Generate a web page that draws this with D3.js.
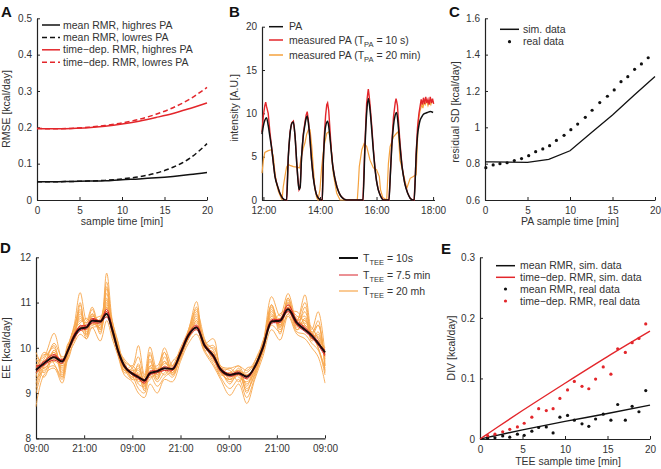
<!DOCTYPE html>
<html><head><meta charset="utf-8">
<script src="https://cdn.jsdelivr.net/npm/d3@7"></script>
<style>body{margin:0;background:#fff} text{font-family:"Liberation Sans",Arial,sans-serif}</style>
</head><body><svg id="c" width="661" height="469"></svg>
<script>
// ---------- Panel A ----------
const aTime = [0,2,4,6,8,10,12,14,16,18,20];
const aMeanHigh = [0.050,0.050,0.051,0.052,0.053,0.056,0.058,0.061,0.065,0.070,0.076];
const aMeanLow  = [0.050,0.050,0.051,0.052,0.054,0.058,0.064,0.074,0.090,0.115,0.155];
const aTimeHigh = [0.197,0.196,0.197,0.199,0.203,0.209,0.217,0.227,0.238,0.252,0.267];
const aTimeLow  = [0.197,0.196,0.197,0.200,0.205,0.212,0.222,0.236,0.254,0.278,0.310];
const aXTicks = [0,5,10,15,20];
const aYTicks = [0,0.1,0.2,0.3,0.4,0.5];
const aYLabels = ["0","0.1","0.2","0.3","0.4","0.5"];
const aLegend = ["mean RMR, highres PA","mean RMR, lowres PA","time\u2212dep. RMR, highres PA","time\u2212dep. RMR, lowres PA"];

// ---------- Panel B ----------
const paTime = [11.95,12.0,12.05,12.11,12.17,12.23,12.29,12.35,12.41,12.5,12.58,12.68,12.76,12.82,12.88,12.94,13.0,13.06,13.12,13.18,13.22,13.26,13.3,13.35,13.41,13.47,13.51,13.55,13.6,13.65,13.7,13.76,13.82,13.88,13.95,14.03,14.08,14.12,14.16,14.2,14.27,14.31,14.35,14.4,14.45,14.52,14.6,14.68,14.75,14.85,14.95,15.2,15.45,15.52,15.59,15.65,15.71,15.77,15.83,15.89,15.95,16.0,16.06,16.15,16.24,16.35,16.44,16.49,16.54,16.6,16.66,16.71,16.77,16.83,16.9,16.95,17.0,17.1,17.19,17.28,17.33,17.37,17.4,17.45,17.5,17.54,17.6,17.66,17.72,17.8,17.9,18.0];
const paTrue = [7.6,8.6,9.2,9.5,8.6,7.3,6.0,4.3,2.7,1.6,0.8,0.2,0,0,5.0,7.6,8.8,9.0,7.3,4.2,2.4,1.2,1.5,5.0,7.4,8.7,9.4,9.7,8.6,6.9,4.7,2.7,1.4,0.6,0.2,0,0,4.5,7.2,8.5,9.1,8.5,7.3,5.6,4.0,2.6,1.5,0.8,0.4,0.1,0,0,0,0,6.0,10.0,11.7,10.4,8.1,5.6,3.5,2.2,1.2,0.4,0,0,0,3.0,6.2,8.6,9.8,10.1,8.5,6.2,3.9,2.8,1.9,0.8,0.2,0,0,2.5,5.0,7.5,8.6,9.2,9.6,9.9,10.0,10.1,10.2,10.1];
const paTime10s = [11.95,12.0,12.05,12.08,12.11,12.17,12.23,12.29,12.35,12.41,12.5,12.58,12.68,12.76,12.82,12.88,12.94,13.0,13.06,13.12,13.18,13.22,13.26,13.3,13.35,13.41,13.47,13.51,13.55,13.6,13.65,13.7,13.76,13.82,13.88,13.95,14.03,14.08,14.12,14.16,14.2,14.24,14.27,14.31,14.35,14.4,14.45,14.52,14.6,14.68,14.75,14.85,14.95,15.2,15.45,15.52,15.59,15.65,15.69,15.71,15.74,15.77,15.83,15.89,15.95,16.0,16.06,16.15,16.24,16.35,16.44,16.49,16.54,16.6,16.66,16.69,16.71,16.74,16.77,16.83,16.9,16.95,17.0,17.1,17.19,17.28,17.33,17.37,17.4,17.45,17.5,17.54,17.58,17.62,17.66,17.7,17.74,17.78,17.82,17.86,17.9,17.94,17.98,18.02];
const pa10s = [7.8,9.8,10.9,11.3,10.8,10.0,7.8,6.1,4.3,2.7,1.6,0.8,0.2,0,0,5.0,7.8,8.9,9.1,7.4,4.2,2.4,1.2,1.5,5.1,7.6,9.0,9.8,10.2,8.9,6.9,4.7,2.7,1.4,0.6,0.2,0,0,4.8,7.8,9.8,11.0,11.2,10.3,8.3,5.8,4.0,2.6,1.5,0.8,0.4,0.1,0,0,0,0,6.4,11.2,12.3,12.8,12.0,11.0,8.6,5.8,3.5,2.2,1.2,0.4,0,0,0,3.1,6.5,9.6,11.2,11.7,11.4,10.9,9.4,6.6,4.0,2.8,1.9,0.8,0.2,0,0,2.6,5.3,8.4,10.0,10.8,11.6,11.0,11.8,11.1,11.9,11.2,11.6,11.0,11.9,11.2,11.7,11.1];
const paTime20m = [11.95,12.0,12.05,12.17,12.29,12.35,12.41,12.47,12.53,12.62,12.66,12.7,12.76,12.82,12.88,12.94,13.06,13.2,13.28,13.33,13.41,13.47,13.53,13.59,13.65,13.71,13.77,13.82,13.88,13.93,14.0,14.06,14.14,14.24,14.32,14.39,14.47,14.59,14.71,15.32,15.36,15.39,15.48,15.56,15.65,15.77,15.89,16.0,16.1,16.14,16.22,16.36,16.42,16.48,16.6,16.71,16.77,16.83,16.89,17.0,17.07,17.19,17.3,17.4,17.44,17.48,17.54,17.6,17.64,17.68,17.72,17.77,17.82,17.87,17.92,17.96,18.02];
const pa20m = [3.1,4.6,5.5,5.7,5.8,5.0,3.1,1.8,1.0,0.3,0,1.5,2.7,3.8,4.1,4.0,3.85,3.8,3.7,4.8,6.0,6.6,7.6,8.1,8.1,6.2,3.5,1.3,0.3,0,1.2,3.8,6.2,7.7,7.9,6.2,3.1,0.8,0,0,2.0,3.85,5.8,6.5,6.2,4.6,3.7,3.5,2.7,1.2,0.3,0,4.2,6.15,7.3,7.7,7.9,4.6,3.85,2.3,1.35,2.5,2.7,2.9,6.15,9.2,10.3,11.0,10.6,11.3,11.0,11.5,10.9,11.4,11.0,11.5,11.2];
const bXTicks = [12,14,16,18];
const bXLabels = ["12:00","14:00","16:00","18:00"];
const bYTicks = [0,5,10,15,20];

// ---------- Panel C ----------
const cSimTime = [0,0.83,5,7.5,10,12.5,15,17.5,20];
const cSim = [0.81,0.81,0.807,0.824,0.871,0.97,1.068,1.175,1.28];
const cRealTime = [0.1,0.96,1.76,2.6,3.45,4.3,5.14,5.96,6.8,7.6,8.4,9.3,10.1,10.9,11.8,12.6,13.5,14.4,15.2,16.0,16.8,17.6,18.4,19.2];
const cReal = [0.778,0.793,0.80,0.805,0.817,0.828,0.844,0.866,0.881,0.899,0.928,0.956,0.987,1.018,1.055,1.094,1.136,1.171,1.206,1.251,1.279,1.319,1.349,1.383];
const cYTicks = [0.6,0.8,1,1.2,1.4,1.6];
const cYLabels = ["0.6","0.8","1","1.2","1.4","1.6"];

// ---------- Panel D ----------
const eeTime = [0,2,4.5,6.5,8,9.5,11,12.6,14,16,17.6,19,20.5,22,24,25.5,27,28.4,30.2,32,34,36,38,40,42,44.2,46,48.3,50.5,52.5,54.5,56.5,58.7,60.8,62.8,65,67,68.7,70.3,72];
const ee10s = [9.51,9.66,9.79,9.70,9.95,10.25,10.42,10.45,10.6,10.58,10.75,10.4,9.92,9.6,9.43,9.35,9.28,9.44,9.48,9.55,9.53,9.88,10.28,10.45,10.05,9.82,9.52,9.40,9.44,9.36,9.58,10.0,10.58,10.6,10.85,10.55,10.4,10.27,10.1,9.9];
const ee7_5a = [9.56,9.7,9.85,9.72,9.98,10.3,10.48,10.5,10.65,10.6,10.85,10.42,9.95,9.62,9.45,9.38,9.25,9.48,9.5,9.58,9.55,9.92,10.32,10.5,10.08,9.85,9.55,9.42,9.47,9.35,9.6,10.04,10.62,10.63,10.95,10.6,10.45,10.3,10.14,9.85];
const ee7_5b = [9.45,9.62,9.73,9.66,9.92,10.2,10.38,10.42,10.55,10.55,10.68,10.36,9.88,9.57,9.4,9.32,9.22,9.4,9.45,9.5,9.5,9.84,10.24,10.4,10.02,9.78,9.48,9.37,9.41,9.32,9.55,9.96,10.54,10.56,10.8,10.5,10.36,10.22,10.06,9.82];
const ee7_5c = [9.6,9.64,9.82,9.74,9.93,10.28,10.45,10.47,10.62,10.6,10.8,10.44,9.9,9.63,9.42,9.36,9.3,9.42,9.5,9.54,9.55,9.9,10.27,10.47,10.06,9.84,9.53,9.41,9.44,9.38,9.57,10.0,10.6,10.62,10.88,10.56,10.42,10.28,10.1,9.95];
const ee20a = [9.7,9.8,10.32,9.75,10.05,10.5,11.22,10.6,10.9,10.4,11.65,10.6,10.0,9.75,9.6,10.05,9.4,10.02,9.5,10.0,9.6,10.0,10.4,11.02,10.1,10.2,9.6,9.55,9.6,9.5,9.7,10.1,11.13,10.7,11.2,10.6,11.17,10.4,10.8,9.85];
const ee20b = [8.7,9.4,9.55,9.22,9.8,10.1,10.3,10.2,10.45,10.15,10.6,10.2,9.8,9.4,9.25,9.0,8.9,9.2,9.0,9.3,9.25,9.7,10.1,10.3,9.9,9.6,9.3,8.95,9.2,8.77,9.3,9.8,10.4,10.17,10.7,10.3,10.2,10.0,9.8,9.22];
const ee20c = [9.9,9.6,9.9,9.45,10.0,10.45,10.8,10.3,10.75,10.5,11.3,10.5,10.05,9.55,9.5,9.2,9.15,9.7,9.35,9.7,9.45,9.9,10.35,10.8,10.2,9.75,9.45,9.55,9.35,9.25,9.45,9.95,10.9,10.5,11.05,10.45,10.9,10.35,10.5,9.6];
const ee20d = [9.2,9.75,10.0,9.5,9.9,10.35,10.6,10.55,10.85,10.3,11.0,10.35,9.95,9.7,9.35,9.45,9.05,9.5,9.25,9.45,9.6,9.95,10.2,10.6,9.95,10.0,9.55,9.2,9.5,9.0,9.6,10.05,10.75,10.45,10.95,10.6,10.7,10.15,10.3,9.7];
const ee20e = [9.45,9.55,9.7,9.6,10.1,10.2,10.95,10.4,10.5,10.6,11.45,10.45,9.85,9.5,9.55,9.8,9.35,9.6,9.6,9.9,9.4,9.8,10.3,10.9,10.0,9.9,9.5,9.35,9.5,9.2,9.5,9.9,10.95,10.3,11.1,10.5,10.55,10.3,10.0,9.5];
const ee20f = [9.6,9.35,9.85,9.55,9.85,10.3,10.65,10.5,10.55,10.45,10.9,10.3,9.9,9.65,9.3,9.3,9.2,9.3,9.45,9.5,9.35,9.85,10.25,10.6,10.15,9.7,9.6,9.3,9.4,9.4,9.55,10.0,10.6,10.55,10.9,10.7,10.6,10.45,10.2,9.8];
const ee20g = [9.8,9.7,10.1,9.8,9.9,10.4,10.4,10.3,10.7,10.55,10.8,10.55,10.1,9.45,9.5,9.5,9.3,9.9,9.4,9.6,9.5,9.95,10.3,10.5,10.05,9.85,9.4,9.45,9.6,9.3,9.5,10.15,10.55,10.75,10.85,10.4,10.5,10.2,10.15,10.0];
const ee20h = [9.3,9.5,9.6,9.35,10.0,10.15,10.5,10.2,10.65,10.35,11.1,10.3,9.95,9.6,9.4,9.1,9.0,9.4,9.15,9.35,9.5,9.8,10.2,10.4,9.95,9.65,9.35,9.1,9.3,8.9,9.35,9.9,10.5,10.35,10.75,10.35,10.3,10.1,9.95,9.4];
const ee20i = [9.55,9.85,9.8,9.65,9.95,10.3,10.7,10.45,10.6,10.7,10.7,10.5,9.9,9.55,9.45,9.6,9.25,9.55,9.5,9.65,9.6,9.85,10.25,10.45,10.1,9.8,9.5,9.4,9.45,9.45,9.65,9.95,10.65,10.6,10.8,10.65,10.45,10.3,10.2,9.95];
const ee20j = [9.0,9.6,10.05,9.4,9.95,10.45,10.85,10.35,10.45,10.5,11.2,10.4,10.0,9.5,9.6,9.4,9.1,9.6,9.3,9.8,9.45,9.9,10.35,10.7,10.0,9.9,9.45,9.3,9.45,9.1,9.4,10.0,10.8,10.5,11.0,10.5,10.8,10.25,10.5,9.6];
const ee20k = [9.35,9.9,9.65,9.3,10.05,10.4,10.55,10.65,10.5,10.65,11.05,10.5,10.1,9.6,9.35,9.55,9.2,9.45,9.55,9.4,9.7,9.9,10.3,10.65,10.05,9.75,9.55,9.5,9.25,9.55,9.6,9.9,10.85,10.4,10.75,10.8,10.5,10.35,10.0,9.55];
const ee20l = [9.65,9.45,9.95,9.6,9.75,10.25,10.75,10.55,10.75,10.4,10.95,10.6,9.95,9.7,9.55,9.25,9.35,9.75,9.3,9.55,9.4,9.8,10.2,10.75,10.15,9.95,9.45,9.3,9.55,9.15,9.7,10.1,10.7,10.65,11.0,10.4,10.65,10.2,10.35,9.75];
const ee20m = [9.1,9.65,9.9,9.35,9.9,10.35,11.0,10.25,10.7,10.6,11.35,10.35,10.0,9.55,9.3,9.65,9.15,9.85,9.4,9.9,9.5,9.75,10.4,10.85,10.0,10.05,9.5,9.25,9.4,9.05,9.45,10.05,10.95,10.45,11.1,10.6,11.0,10.3,10.6,9.45];
const ee20n = [9.75,9.55,9.75,9.65,10.0,10.2,10.5,10.4,10.55,10.45,10.9,10.45,9.85,9.5,9.45,9.4,9.3,9.35,9.45,9.7,9.45,9.9,10.3,10.55,10.1,9.8,9.5,9.45,9.5,9.4,9.55,9.95,10.7,10.5,10.9,10.5,10.6,10.3,10.25,9.9];
const dXTicks = [0,12,24,36,48,60,72];
const dXLabels = ["09:00","21:00","09:00","21:00","09:00","21:00","09:00"];
const dYTicks = [8,9,10,11,12];
const dLegend = [" = 10s"," = 7.5 min"," = 20 mh"];

// ---------- Panel E ----------
const eSimTime = [0,1,2,5,10,15,20];
const eSimMean = [0,0.003,0.006,0.015,0.029,0.042,0.056];
const eSimTimeDep = [0,0.0095,0.019,0.047,0.092,0.136,0.178];
const eRealTime = [0.9,1.76,2.67,3.5,4.4,5.2,6.1,6.9,7.8,8.6,9.4,10.3,11.1,12.0,12.8,13.6,14.5,15.4,16.2,17.1,17.9,18.7,19.5];
const eRealMean = [0.001,0.002,0.005,0.003,0.008,0.006,0.013,0.019,0.020,0.010,0.036,0.039,0.031,0.025,0.021,0.033,0.041,0.031,0.057,0.031,0.054,0.045,0.080];
const eRealTimeDep = [0.0055,0.008,0.012,0.016,0.020,0.026,0.036,0.050,0.047,0.050,0.067,0.081,0.095,0.087,0.083,0.099,0.119,0.107,0.149,0.143,0.159,0.166,0.190];
const eYTicks = [0,0.1,0.2,0.3];
const eYLabels = ["0","0.1","0.2","0.3"];
const eLegend = ["mean RMR, sim. data","time\u2212dep. RMR, sim. data","mean RMR, real data","time\u2212dep. RMR, real data"];

// ---------- drawing ----------
const RED = "#e3262b", ORANGE = "#f5a23e", DRED = "#d8232a", DORANGE = "#f7a64d";
const TXT = "#333";
const svg = d3.select("#c");

function makePanel(o){
  const x = d3.scaleLinear().domain(o.xd).range(o.xr);
  const y = d3.scaleLinear().domain(o.yd).range(o.yr);
  const g = svg.append("g");
  const xa = g.append("g").attr("transform",`translate(0,${o.yr[0]})`)
    .call(d3.axisBottom(x).tickValues(o.xt).tickFormat((d,i)=>o.xl[i]).tickSizeInner(-3).tickSizeOuter(0).tickPadding(7));
  const ya = g.append("g").attr("transform",`translate(${o.xr[0]},0)`)
    .call(d3.axisLeft(y).tickValues(o.yt).tickFormat((d,i)=>o.yl[i]).tickSizeInner(-3).tickSizeOuter(0).tickPadding(5));
  [xa,ya].forEach(a=>{
    a.select(".domain").attr("stroke","#222").attr("stroke-width",1.2);
    a.selectAll(".tick line").attr("stroke","#222");
    a.selectAll("text").attr("font-size",10).attr("fill",TXT).attr("font-family",'"Liberation Sans",Arial,sans-serif');
  });
  if(o.ylab) g.append("text").attr("transform",`translate(${o.ylab[0]},${o.ylab[1]}) rotate(-90)`)
    .attr("text-anchor","middle").attr("font-size",10.5).attr("fill",TXT).text(o.ylab[2]);
  if(o.xlab) g.append("text").attr("x",o.xlab[0]).attr("y",o.xlab[1])
    .attr("text-anchor","middle").attr("font-size",10.5).attr("fill",TXT).text(o.xlab[2]);
  g.append("text").attr("x",o.letter[0]).attr("y",o.letter[1]).attr("font-size",15).attr("font-weight","bold").attr("fill","#111").text(o.letter[2]);
  return {g,x,y};
}
function drawLine(p, xs, ys, color, w, dash, curve){
  const line = d3.line().x((d,i)=>p.x(xs[i])).y(d=>p.y(d)).curve(curve||d3.curveLinear);
  const path = p.g.append("path").datum(ys).attr("d",line).attr("fill","none")
    .attr("stroke",color).attr("stroke-width",w);
  if(dash) path.attr("stroke-dasharray",dash);
  return path;
}
function legendLine(g,x1,x2,y,color,w,dash){
  const l = g.append("line").attr("x1",x1).attr("x2",x2).attr("y1",y).attr("y2",y).attr("stroke",color).attr("stroke-width",w);
  if(dash) l.attr("stroke-dasharray",dash);
}
function legendText(g,x,y,t){
  return g.append("text").attr("x",x).attr("y",y).attr("dy","0.35em").attr("font-size",10.5).attr("fill",TXT).text(t);
}
function subText(g,x,y,pre,sub,post){
  const t = g.append("text").attr("x",x).attr("y",y).attr("dy","0.35em").attr("font-size",10.5).attr("fill",TXT);
  t.append("tspan").text(pre);
  t.append("tspan").attr("dy",3.5).attr("font-size",7.5).text(sub);
  t.append("tspan").attr("dy",-3.5).text(post);
}

// Panel A
const pA = makePanel({xd:[0,20],xr:[37,207],yd:[0,0.5],yr:[200,18.3],xt:aXTicks,xl:aXTicks.map(String),yt:aYTicks,yl:aYLabels,
  ylab:[10,109,"RMSE [kcal/day]"],xlab:[122,225,"sample time  [min]"],letter:[1,17,"A"]});
const cm = d3.curveMonotoneX;
drawLine(pA,aTime,aMeanLow,"#111",1.5,"5,3",cm);
drawLine(pA,aTime,aMeanHigh,"#111",1.5,null,cm);
drawLine(pA,aTime,aTimeLow,RED,1.5,"5,3",cm);
drawLine(pA,aTime,aTimeHigh,RED,1.5,null,cm);
[["#111",null],["#111","5,3"],[RED,null],[RED,"5,3"]].forEach((s,i)=>{
  const y = 25+i*12.4;
  legendLine(pA.g,42,60,y,s[0],1.5,s[1]);
  legendText(pA.g,63,y,aLegend[i]);
});

// Panel B
const pB = makePanel({xd:[11.95,18.05],xr:[262,434.5],yd:[0,20],yr:[200,26.7],xt:bXTicks,xl:bXLabels,yt:bYTicks,yl:bYTicks.map(String),
  ylab:[238,108,"intensity [A.U.]"],letter:[229,17,"B"]});
drawLine(pB,paTime20m,pa20m,ORANGE,1.2);
drawLine(pB,paTime10s,pa10s,RED,1.4);
drawLine(pB,paTime,paTrue,"#111",1.5,null,cm);
legendLine(pB.g,269,283,26.7,"#111",1.5);
legendText(pB.g,289,26.7,"PA");
legendLine(pB.g,269,283,40,RED,1.5);
subText(pB.g,289,40,"measured PA (T","PA"," = 10 s)");
legendLine(pB.g,269,283,55,ORANGE,1.5);
subText(pB.g,289,55,"measured PA (T","PA"," = 20 min)");

// Panel C
const pC = makePanel({xd:[0,20],xr:[485,655],yd:[0.6,1.6],yr:[200,18.3],xt:aXTicks,xl:aXTicks.map(String),yt:cYTicks,yl:cYLabels,
  ylab:[459,112,"residual SD [kcal/day]"],xlab:[570,225,"PA sample time [min]"],letter:[449,17,"C"]});
drawLine(pC,cSimTime,cSim,"#111",1.3);
pC.g.selectAll("circle.r").data(cReal).join("circle").attr("cx",(d,i)=>pC.x(cRealTime[i])).attr("cy",d=>pC.y(d)).attr("r",1.6).attr("fill","#111");
legendLine(pC.g,500,519,29.3,"#111",1.5);
legendText(pC.g,523,29.3,"sim. data");
pC.g.append("circle").attr("cx",509.5).attr("cy",41.7).attr("r",1.6).attr("fill","#111");
legendText(pC.g,523,41.7,"real data");

// Panel D
const pD = makePanel({xd:[0,72],xr:[36,325],yd:[8,12],yr:[438.3,257.3],xt:dXTicks,xl:dXLabels,yt:dYTicks,yl:dYTicks.map(String),
  ylab:[10,348,"EE [kcal/day]"],letter:[0,253,"D"]});
const cr = d3.curveCatmullRom.alpha(0.5);
[ee20a,ee20b,ee20c,ee20d,ee20e,ee20f,ee20g,ee20h,ee20i,ee20j,ee20k,ee20l,ee20m,ee20n].forEach(s=>drawLine(pD,eeTime,s,DORANGE,1,null,cr).attr("opacity",0.9));
[ee7_5a,ee7_5b,ee7_5c].forEach(s=>drawLine(pD,eeTime,s,DRED,1,null,cr));
drawLine(pD,eeTime,ee10s,"#1a0a0a",2,null,cm);
legendLine(pD.g,339,358,258,"#111",2);
subText(pD.g,363,258,"T","TEE",dLegend[0]);
legendLine(pD.g,339,358,275,DRED,1);
subText(pD.g,363,275,"T","TEE",dLegend[1]);
legendLine(pD.g,339,358,291,"#f8b870",1.5);
subText(pD.g,363,291,"T","TEE",dLegend[2]);

// Panel E
const pE = makePanel({xd:[0,20],xr:[480,650],yd:[0,0.3],yr:[439,257.3],xt:aXTicks,xl:aXTicks.map(String),yt:eYTicks,yl:eYLabels,
  ylab:[455,348,"DIV [kcal/day]"],xlab:[568,465,"TEE sample time  [min]"],letter:[441,254,"E"]});
drawLine(pE,eSimTime,eSimMean,"#111",1.4,null,cm);
drawLine(pE,eSimTime,eSimTimeDep,RED,1.4,null,cm);
pE.g.selectAll("circle.m").data(eRealMean).join("circle").attr("class","m").attr("cx",(d,i)=>pE.x(eRealTime[i])).attr("cy",d=>pE.y(d)).attr("r",1.6).attr("fill","#111");
pE.g.selectAll("circle.t").data(eRealTimeDep).join("circle").attr("class","t").attr("cx",(d,i)=>pE.x(eRealTime[i])).attr("cy",d=>pE.y(d)).attr("r",1.6).attr("fill",RED);
legendLine(pE.g,496,515,265.7,"#111",1.5); legendText(pE.g,520,265.7,eLegend[0]);
legendLine(pE.g,496,515,277.3,RED,1.5); legendText(pE.g,520,277.3,eLegend[1]);
pE.g.append("circle").attr("cx",505.5).attr("cy",289).attr("r",1.6).attr("fill","#111"); legendText(pE.g,520,289,eLegend[2]);
pE.g.append("circle").attr("cx",505.5).attr("cy",301).attr("r",1.6).attr("fill",RED); legendText(pE.g,520,301,eLegend[3]);
</script></body></html>
